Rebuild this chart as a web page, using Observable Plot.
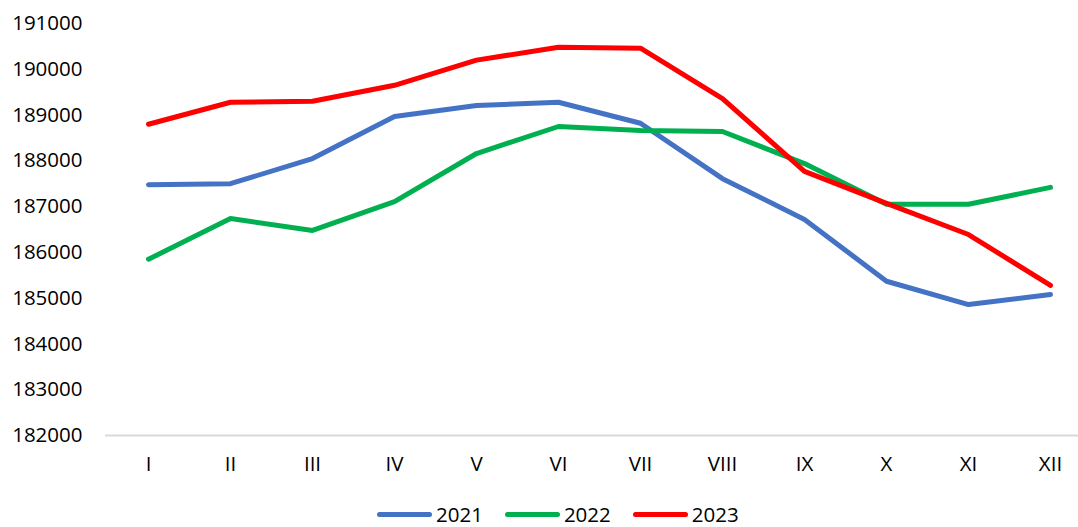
<!DOCTYPE html>
<html>
<head>
<meta charset="utf-8">
<script src="https://cdn.jsdelivr.net/npm/d3@7"></script>
<script src="https://cdn.jsdelivr.net/npm/@observablehq/plot@0.6"></script>
<style>
  html, body { margin: 0; padding: 0; background: #fff; overflow: hidden; }
  #wrap { position: relative; width: 1078px; height: 527px; font-family: "Open Sans", sans-serif; }
  #legend { position: absolute; left: 377px; top: 502px; display: flex; align-items: center; gap: 22px; font-size: 20.5px; color: #000; line-height: 24px; }
  .item { display: flex; align-items: center; gap: 4px; }
  .sw { width: 55px; height: 5px; border-radius: 3px; }
</style>
</head>
<body>
<div id="wrap"><div id="chart"></div><div id="legend"></div></div>
<script>
const months = ["I","II","III","IV","V","VI","VII","VIII","IX","X","XI","XII"];
const years = ["2021","2022","2023"];
const colors = ["#4472C4","#00B050","#FF0000"];
const v2021 = [187480,187500,188050,188970,189210,189280,188820,187610,186720,185370,184860,185080];
const v2022 = [185850,186740,186480,187110,188160,188750,188660,188640,187940,187050,187050,187420];
const v2023 = [188800,189280,189300,189650,190200,190480,190460,189360,187770,187070,186390,185280];
const yTicks = [182000,183000,184000,185000,186000,187000,188000,189000,190000,191000];

const series = [v2021, v2022, v2023];
const rows = [];
series.forEach((vals, i) => vals.forEach((v, j) => rows.push({year: years[i], month: months[j], value: v})));

const chart = Plot.plot({
  width: 1078,
  height: 490,
  marginTop: 23,
  marginBottom: 55,
  marginLeft: 105,
  marginRight: 0,
  style: {fontFamily: "'Open Sans', sans-serif", fontSize: "20.5px", color: "#000", background: "#fff"},
  x: {type: "point", domain: months, range: [147, 1050], padding: 0, label: null, tickSize: 0, tickPadding: 21},
  y: {domain: [182000, 191000], ticks: yTicks, tickFormat: d3.format("d"), label: null, tickSize: 0, tickPadding: 23},
  color: {domain: years, range: colors},
  marks: [
    Plot.ruleY([182000], {stroke: "#D9D9D9", strokeWidth: 2}),
    Plot.lineY(rows, {x: "month", y: "value", z: "year", stroke: "year", strokeWidth: 5, strokeLinecap: "round", strokeLinejoin: "round"})
  ]
});
document.getElementById("chart").appendChild(chart);

const legend = document.getElementById("legend");
years.forEach((y, i) => {
  const it = document.createElement("div");
  it.className = "item";
  const sw = document.createElement("div");
  sw.className = "sw";
  sw.style.background = colors[i];
  const t = document.createElement("span");
  t.textContent = y;
  it.appendChild(sw); it.appendChild(t);
  legend.appendChild(it);
});
</script>
</body>
</html>
